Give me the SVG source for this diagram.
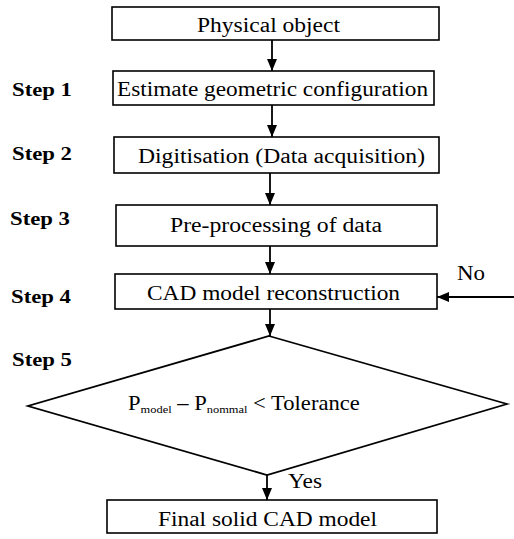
<svg xmlns="http://www.w3.org/2000/svg" width="514" height="539" viewBox="0 0 514 539" font-family="'Liberation Serif', 'DejaVu Serif', 'Times New Roman', serif">
<defs>
<marker id="ah" viewBox="0 0 12 10" refX="12" refY="5" markerWidth="12" markerHeight="10" markerUnits="userSpaceOnUse" orient="auto">
<path d="M0,0 L12,5 L0,10 Z" fill="#000"/>
</marker>
</defs>
<style>
.box{fill:#fff;stroke:#000;stroke-width:1.6}
.t{font-family:'Liberation Serif','DejaVu Serif','Times New Roman',serif;font-size:20px;fill:#000}
.s{font-family:'Liberation Serif','DejaVu Serif','Times New Roman',serif;font-size:19px;font-weight:bold;fill:#000}
.c{fill:none;stroke:#000;stroke-width:1.8}
</style>
<rect width="514" height="539" fill="#fff"/>
<g id="labels">
<text class="s" x="12" y="96" textLength="60" lengthAdjust="spacingAndGlyphs">Step 1</text>
<text class="s" x="12" y="160" textLength="60" lengthAdjust="spacingAndGlyphs">Step 2</text>
<text class="s" x="10" y="225" textLength="60" lengthAdjust="spacingAndGlyphs">Step 3</text>
<text class="s" x="11" y="303" textLength="60" lengthAdjust="spacingAndGlyphs">Step 4</text>
<text class="s" x="12" y="366" textLength="60" lengthAdjust="spacingAndGlyphs">Step 5</text>
</g>
<g id="connectors">
<line class="c" x1="272" y1="40" x2="272" y2="71" marker-end="url(#ah)"/>
<line class="c" x1="272" y1="105" x2="272" y2="137" marker-end="url(#ah)"/>
<line class="c" x1="270" y1="173" x2="270" y2="205" marker-end="url(#ah)"/>
<line class="c" x1="270" y1="246" x2="270" y2="274" marker-end="url(#ah)"/>
<line class="c" x1="270" y1="309" x2="270" y2="336" marker-end="url(#ah)"/>
<line class="c" x1="267" y1="475" x2="267" y2="500" marker-end="url(#ah)"/>
<line class="c" x1="514" y1="297" x2="437" y2="297" marker-end="url(#ah)"/>
<text class="t" x="457" y="280" textLength="28" lengthAdjust="spacingAndGlyphs">No</text>
<text class="t" x="288" y="488" textLength="34" lengthAdjust="spacingAndGlyphs">Yes</text>
</g>
<g id="n1">
<rect class="box" x="112" y="7" width="327" height="33"/>
<text class="t" x="197" y="32" textLength="143" lengthAdjust="spacingAndGlyphs">Physical object</text>
</g>
<g id="n2">
<rect class="box" x="113" y="71" width="321" height="34"/>
<text class="t" x="117" y="96" textLength="311" lengthAdjust="spacingAndGlyphs">Estimate geometric configuration</text>
</g>
<g id="n3">
<rect class="box" x="114" y="137" width="325" height="36"/>
<text class="t" x="138" y="163" textLength="287" lengthAdjust="spacingAndGlyphs">Digitisation (Data acquisition)</text>
</g>
<g id="n4">
<rect class="box" x="116" y="205" width="321" height="41"/>
<text class="t" x="170" y="232" textLength="212" lengthAdjust="spacingAndGlyphs">Pre-processing of data</text>
</g>
<g id="n5">
<rect class="box" x="115" y="274" width="322" height="35"/>
<text class="t" x="147" y="300" textLength="253" lengthAdjust="spacingAndGlyphs">CAD model reconstruction</text>
</g>
<g id="n6">
<polygon points="269,336 507,404 267,475 28,406" fill="#fff" stroke="#000" stroke-width="1.8"/>
<g transform="translate(128,410) scale(1.13,1)">
<text class="t" x="0" y="0">P<tspan font-size="11" dy="3">model</tspan><tspan dy="-3"> – P</tspan><tspan font-size="11" dy="3">nommal</tspan><tspan dy="-3"> &lt; Tolerance</tspan></text>
</g>
</g>
<g id="n7">
<rect class="box" x="107" y="500" width="330" height="33"/>
<text class="t" x="158" y="526" textLength="219" lengthAdjust="spacingAndGlyphs">Final solid CAD model</text>
</g>
</svg>
